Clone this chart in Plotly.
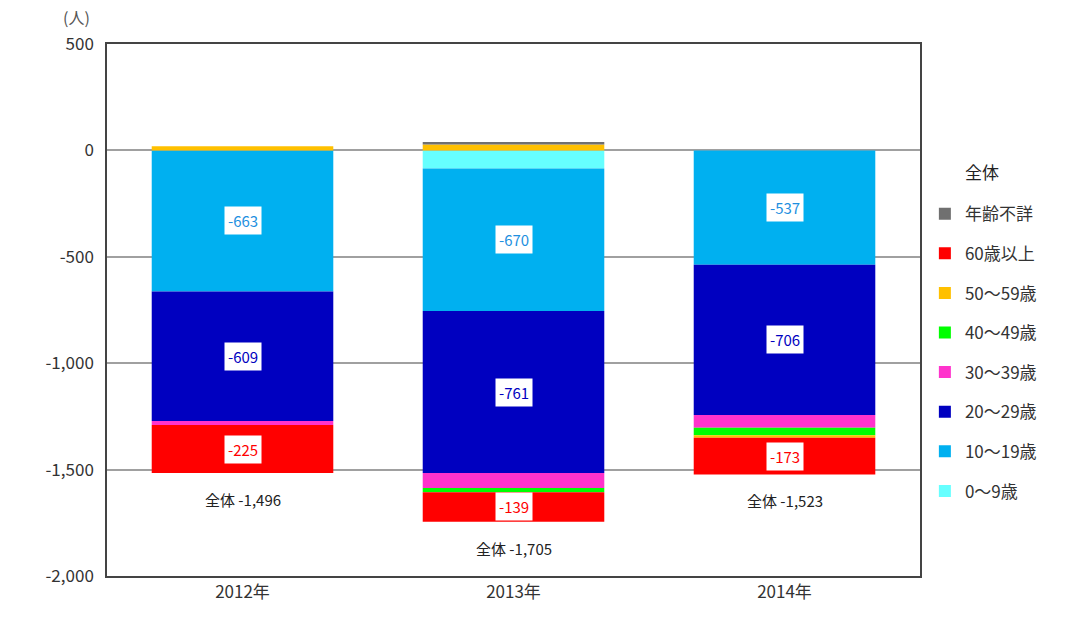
"""stacked bar chart: population change by age group"""

import plotly.graph_objects as go

years = ["2012年", "2013年", "2014年"]

# stacking order: first trace sits next to zero
age_groups = ["0～9歳", "10～19歳", "20～29歳", "30～39歳", "40～49歳", "50～59歳", "60歳以上", "年齢不詳"]
age_0_9 = [0, -85, 0]
age_10_19 = [-663, -670, -537]
age_20_29 = [-609, -761, -706]
age_30_39 = [-19, -70, -60]
age_40_49 = [0, -20, -35]
age_50_59 = [20, 28, -12]
age_60_plus = [-225, -139, -173]
age_unknown = [0, 12, 0]
totals = [-1496, -1705, -1523]

labelled = ["10～19歳", "20～29歳", "60歳以上"]

tick_vals = [500, 0, -500, -1000, -1500, -2000]
tick_text = ["500", "0", "-500", "-1,000", "-1,500", "-2,000"]

series = [age_0_9, age_10_19, age_20_29, age_30_39, age_40_49, age_50_59, age_60_plus, age_unknown]
colors = ["#66FFFF", "#00B0F0", "#0000C0", "#FF33CC", "#00FF00", "#FFC000", "#FF0000", "#707070"]
label_colors = {"10～19歳": "#1E90E0", "20～29歳": "#0000C0", "60歳以上": "#FF0000"}

FONT = "Noto Sans CJK JP"

fig = go.Figure()
for counter, (name, vals, color) in enumerate(zip(age_groups, series, colors)):
    fig.add_trace(
        go.Bar(
            x=years,
            y=vals,
            name=name,
            legendgroup=name,
            legendrank=100 - counter,  # legend lists 年齢不詳 first
            marker_color=color,
            marker_line_width=0,
        )
    )

# segment labels placed at middle of each segment (relative stacking)
annotations = []
neg_base = [0, 0, 0]
pos_base = [0, 0, 0]
for name, vals in zip(age_groups, series):
    for i, v in enumerate(vals):
        if v < 0:
            mid = neg_base[i] + v / 2
            neg_base[i] += v
        else:
            mid = pos_base[i] + v / 2
            pos_base[i] += v
        if name in labelled:
            annotations.append(
                dict(
                    x=years[i], y=mid, xref="x", yref="y",
                    text=f"{v}", showarrow=False,
                    bgcolor="white", borderpad=3,
                    font=dict(size=15, color=label_colors[name], family=FONT),
                )
            )

for i, t in enumerate(totals):
    annotations.append(
        dict(
            x=years[i], y=neg_base[i], xref="x", yref="y",
            text=f"全体 -{abs(t):,}", showarrow=False,
            yanchor="top", yshift=-14,
            font=dict(size=15, color="#222", family=FONT),
        )
    )

annotations.append(
    dict(x=0.0, y=1.0, xref="paper", yref="paper", text="(人)", showarrow=False,
         xanchor="right", yanchor="bottom", xshift=-15, yshift=13,
         font=dict(size=16, color="#555", family=FONT))
)
annotations.append(
    dict(x=1.0, y=0.761, xref="paper", yref="paper", text="全体", showarrow=False,
         xanchor="left", yanchor="middle", xshift=43,
         font=dict(size=17, color="#222", family=FONT))
)

fig.update_layout(
    barmode="relative",
    bargap=0.33,
    width=1077,
    height=628,
    plot_bgcolor="white",
    paper_bgcolor="white",
    font=dict(family=FONT, size=16, color="#333"),
    margin={"t": 44, "l": 107, "r": 157, "b": 52},
    xaxis=dict(
        showline=True, mirror=True, linecolor="#444", linewidth=1.5,
        showgrid=False, ticks="", tickfont=dict(size=17, color="#333"),
    ),
    yaxis=dict(
        range=[-2000, 500],
        tickvals=tick_vals,
        ticktext=tick_text,
        showgrid=True, gridcolor="#A0A0A0", gridwidth=1.5,
        zeroline=False,
        showline=True, mirror=True, linecolor="#444", linewidth=1.5,
        tickfont=dict(size=17, color="#333"),
        ticklabelstandoff=8,
    ),
    legend=dict(
        traceorder="grouped",
        tracegroupgap=14.5,
        x=1.006, xanchor="left", xref="paper",
        y=0.714, yanchor="top",
        bgcolor="rgba(0,0,0,0)",
        font=dict(size=17, color="#333", family=FONT),
        itemwidth=30,
    ),
    showlegend=True,
    annotations=annotations,
)

fig.write_html(
    "out.html",
    config={"displayModeBar": False},
    post_script="document.body.style.margin='0';",
)
